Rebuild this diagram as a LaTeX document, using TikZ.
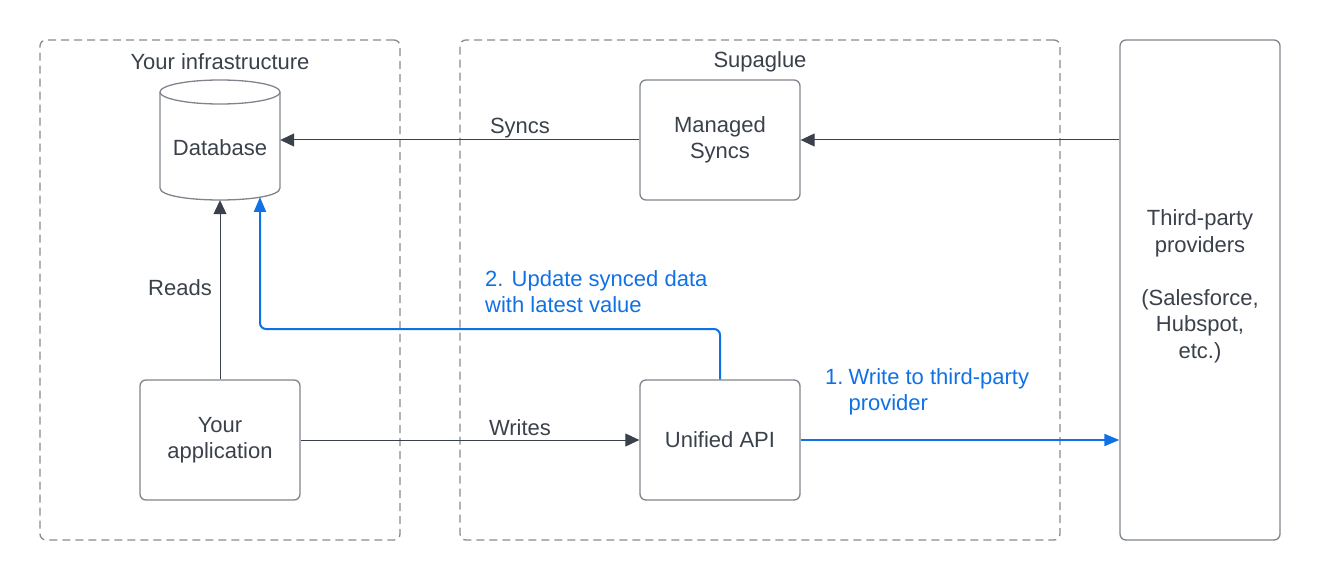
\documentclass[tikz,border=0pt]{standalone}
\usepackage{fontspec}
\setmainfont{Liberation Sans}
\usetikzlibrary{arrows.meta}
\definecolor{txt}{HTML}{3A414A}
\definecolor{boxc}{HTML}{7F848C}
\definecolor{dashc}{HTML}{878B91}
\definecolor{bl}{HTML}{1071E5}
\tikzset{
  basefont/.style={font=\fontsize{22}{26.5}\selectfont},
  box/.style={draw=boxc, line width=1.3pt, rounded corners=6pt, minimum width=160pt, minimum height=120pt, align=center, text=txt, basefont, inner sep=0pt},
  container/.style={draw=dashc, line width=1.3pt, dash pattern=on 8pt off 5pt, rounded corners=6pt, inner sep=0pt},
  lbl/.style={text=txt, basefont, inner sep=0pt},
  blbl/.style={text=bl, basefont, inner sep=0pt, align=left},
  conn/.style={draw=txt, line width=1pt, -{Triangle[length=14pt,width=13pt]}},
  bconn/.style={draw=bl, line width=2pt, -{Triangle[length=15pt,width=12pt]}},
}
\begin{document}
\begin{tikzpicture}[x=1pt,y=-1pt]
\useasboundingbox (0,0) rectangle (1320,580);
% containers
\node[container, minimum width=360pt, minimum height=500pt] (infra) at (220,290) {};
\node[container, minimum width=600pt, minimum height=500pt] (supa) at (760,290) {};
\node[lbl] (infralbl) at (220,62) {Your infrastructure};
\node[lbl] (supalbl) at (760,62) {Supaglue};
% third-party
\node[box, minimum height=500pt] (tp) at (1200,290) {};
\node[lbl, align=center] (tptxt) at (1200,286.5) {Third-party\\providers\\\mbox{}\\(Salesforce,\\Hubspot,\\etc.)};
% database cylinder
\node[minimum width=120pt, minimum height=120pt, inner sep=0pt] (db) at (220,140) {};
\draw[boxc, line width=1.3pt] (220,92) ellipse [x radius=60, y radius=12];
\draw[boxc, line width=1.3pt] (160,92) -- (160,188) .. controls (160,204) and (280,204) .. (280,188) -- (280,92);
\node[lbl] (dblbl) at (220,148) {Database};
% boxes
\node[box] (ms) at (720,140) {Managed\\Syncs};
\node[box] (app) at (220,440) {Your\\application};
\node[box] (api) at (720,440) {Unified API};
% coordinates
\coordinate (dbb) at (260,197);
\coordinate (turn) at (720,329);
% connectors
\draw[conn] (tp.west |- ms.east) -- (ms.east);
\draw[conn] (ms.west) -- (db.east);
\draw[conn] (app.north) -- (db.south);
\draw[conn] (app.east) -- (api.west);
\draw[bconn] (api.east) -- (tp.west |- api.east);
\draw[bconn, rounded corners=6pt] (api.north) -- (turn) -| (dbb);
% labels
\node[lbl] (syncs) at (520,128) {Syncs};
\node[lbl] (reads) at (180,288) {Reads};
\node[lbl] (writes) at (520,428) {Writes};
\node[blbl, anchor=west] (upd) at (485,291.5) {2. Update synced data\\with latest value};
\node[blbl, anchor=west] (wr) at (825,392) {\begin{tabular}{@{}l@{\hspace{5pt}}l@{}}1. & Write to third-party\\ & provider\end{tabular}};
\end{tikzpicture}
\end{document}
